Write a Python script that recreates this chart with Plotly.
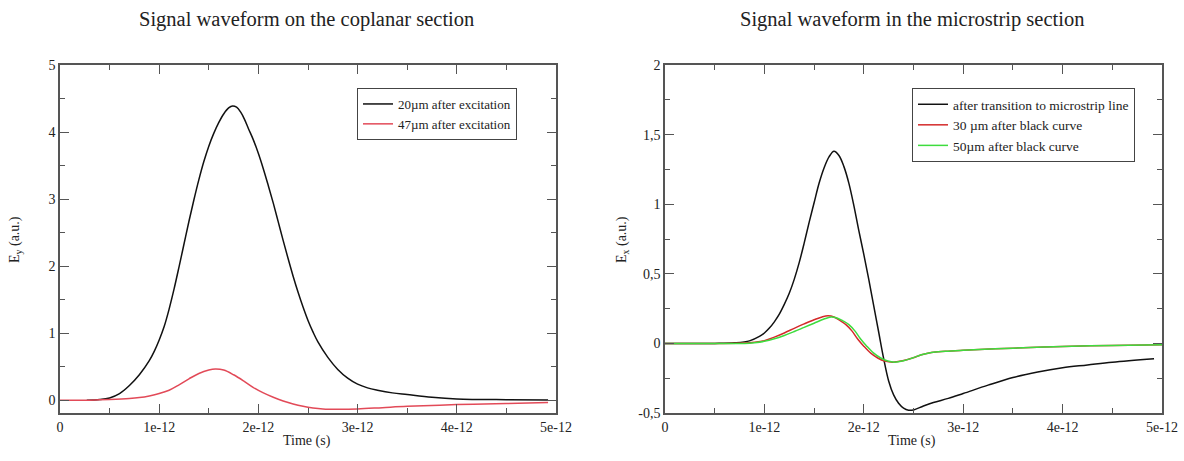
import plotly.graph_objects as go

W, H = 1184, 461

# ---- data (time in ps, displayed with e-12 tick labels) ----
t_cop_20 = [0.27, 0.4, 0.5, 0.6, 0.7, 0.8, 0.9, 0.95, 1.0, 1.05, 1.1, 1.15, 1.2, 1.25, 1.3, 1.35, 1.4,
            1.45, 1.5, 1.55, 1.6, 1.65, 1.7, 1.74, 1.78, 1.82, 1.86, 1.9, 1.95, 2.0, 2.05, 2.1,
            2.15, 2.2, 2.25, 2.3, 2.35, 2.4, 2.45, 2.5, 2.55, 2.6, 2.7, 2.8, 2.9, 3.0, 3.1, 3.2,
            3.35, 3.5, 3.75, 4.0, 4.5, 4.92]
e_cop_20 = [0.0, 0.01, 0.035, 0.1, 0.22, 0.38, 0.59, 0.73, 0.9, 1.1, 1.36, 1.66, 1.99, 2.33, 2.67, 2.99, 3.29,
            3.56, 3.79, 3.98, 4.14, 4.27, 4.36, 4.39, 4.37, 4.3, 4.19, 4.05, 3.88, 3.68, 3.45, 3.2,
            2.94, 2.66, 2.38, 2.11, 1.85, 1.61, 1.39, 1.19, 1.02, 0.87, 0.64, 0.46, 0.33, 0.24, 0.185, 0.15,
            0.11, 0.085, 0.045, 0.02, 0.008, 0.005]

t_cop_47 = [0.0, 0.3, 0.5, 0.7, 0.8, 0.9, 1.0, 1.1, 1.2, 1.3, 1.4, 1.5, 1.566, 1.65, 1.75, 1.85,
            1.95, 2.05, 2.15, 2.25, 2.35, 2.45, 2.55, 2.65, 2.8, 3.0, 3.25, 3.5, 4.0, 4.5, 4.92]
e_cop_47 = [0.0, 0.002, 0.01, 0.025, 0.04, 0.065, 0.1, 0.15, 0.23, 0.32, 0.40, 0.45, 0.465, 0.45, 0.38, 0.29,
            0.19, 0.11, 0.045, -0.01, -0.055, -0.09, -0.115, -0.13, -0.135, -0.13, -0.11, -0.09, -0.065, -0.048, -0.035]

t_ms_0 = [0.0, 0.5, 0.7, 0.85, 0.95, 1.0, 1.05, 1.1, 1.15, 1.2, 1.25, 1.3, 1.35, 1.4, 1.45, 1.5,
          1.55, 1.6, 1.65, 1.7, 1.75, 1.8, 1.85, 1.9, 1.95, 2.0, 2.05, 2.1, 2.15, 2.2, 2.25, 2.3,
          2.35, 2.4, 2.45, 2.5, 2.6, 2.7, 2.85, 3.0, 3.25, 3.5, 3.75, 4.0, 4.25, 4.5, 4.92]
e_ms_0 = [0.0, 0.0, 0.004, 0.018, 0.05, 0.075, 0.11, 0.155, 0.21, 0.28, 0.36, 0.46, 0.58, 0.72, 0.87, 1.01,
          1.15, 1.26, 1.34, 1.38, 1.35, 1.27, 1.15, 0.99, 0.81, 0.64, 0.46, 0.27, 0.08, -0.11, -0.27, -0.37,
          -0.43, -0.465, -0.48, -0.478, -0.45, -0.425, -0.395, -0.36, -0.30, -0.245, -0.205, -0.175, -0.155, -0.135, -0.11]

t_ms_30 = [0.0, 0.5, 0.8, 0.9, 1.0, 1.1, 1.2, 1.3, 1.4, 1.5, 1.58, 1.64, 1.7, 1.76, 1.82, 1.88,
           1.94, 2.0, 2.07, 2.14, 2.21, 2.29, 2.39, 2.49, 2.58, 2.68, 2.82, 3.0, 3.5, 4.0, 4.5, 5.0]
e_ms_30 = [0.0, 0.0, 0.002, 0.008, 0.02, 0.045, 0.075, 0.108, 0.14, 0.17, 0.19, 0.198, 0.19, 0.165, 0.135, 0.09,
           0.03, -0.02, -0.07, -0.105, -0.127, -0.135, -0.125, -0.105, -0.082, -0.065, -0.057, -0.05, -0.034, -0.022, -0.015, -0.01]

t_ms_50 = [0.0, 0.5, 0.8, 0.9, 1.0, 1.1, 1.2, 1.3, 1.4, 1.5, 1.6, 1.67, 1.73, 1.79, 1.85, 1.91,
           1.97, 2.03, 2.10, 2.17, 2.24, 2.31, 2.40, 2.49, 2.58, 2.68, 2.82, 3.0, 3.5, 4.0, 4.5, 5.0]
e_ms_50 = [0.0, 0.0, 0.0, 0.005, 0.015, 0.033, 0.057, 0.085, 0.115, 0.145, 0.175, 0.19, 0.183, 0.162, 0.135, 0.09,
           0.03, -0.02, -0.07, -0.105, -0.127, -0.135, -0.125, -0.105, -0.082, -0.065, -0.057, -0.05, -0.034, -0.022, -0.015, -0.01]

x_tickvals = [0, 1, 2, 3, 4, 5]
x_ticktext = ["0", "1e-12", "2e-12", "3e-12", "4e-12", "5e-12"]
y1_tickvals = [0, 1, 2, 3, 4, 5]
y1_ticktext = ["0", "1", "2", "3", "4", "5"]
y2_tickvals = [-0.5, 0, 0.5, 1, 1.5, 2]
y2_ticktext = ["-0,5", "0", "0,5", "1", "1,5", "2"]

names_cop = ["20\u00b5m after excitation", "47\u00b5m after excitation"]
names_ms = ["after transition to microstrip line", "30 \u00b5m after black curve", "50\u00b5m after black curve"]

FONT = "Liberation Serif"
AX = "#555555"
LS = dict(width=1.5, shape="spline", smoothing=1.0)

fig = go.Figure()
fig.add_trace(go.Scatter(x=t_cop_20, y=e_cop_20, mode="lines", name=names_cop[0],
                         line=dict(color="#111111", **LS), xaxis="x", yaxis="y", legend="legend"))
fig.add_trace(go.Scatter(x=t_cop_47, y=e_cop_47, mode="lines", name=names_cop[1],
                         line=dict(color="#e24a58", **LS), xaxis="x", yaxis="y", legend="legend"))
fig.add_trace(go.Scatter(x=t_ms_0, y=e_ms_0, mode="lines", name=names_ms[0],
                         line=dict(color="#111111", **LS), xaxis="x2", yaxis="y2", legend="legend2"))
fig.add_trace(go.Scatter(x=t_ms_30, y=e_ms_30, mode="lines", name=names_ms[1],
                         line=dict(color="#d42a2a", **LS), xaxis="x2", yaxis="y2", legend="legend2"))
fig.add_trace(go.Scatter(x=t_ms_50, y=e_ms_50, mode="lines", name=names_ms[2],
                         line=dict(color="#3edc3e", **LS), xaxis="x2", yaxis="y2", legend="legend2"))

def xaxis(dom, anchor):
    return dict(domain=dom, anchor=anchor, range=[0, 5], tickvals=x_tickvals, ticktext=x_ticktext,
                ticks="inside", ticklen=9, tickwidth=1, tickcolor=AX, showline=True, linecolor=AX,
                linewidth=1.5, mirror="allticks", showgrid=False, zeroline=False,
                tickfont=dict(family=FONT, size=14, color="#222222"),
                minor=dict(ticks="inside", ticklen=5, dtick=0.5, tick0=0, tickcolor=AX, showgrid=False),
                automargin=False, fixedrange=True)

def yaxis(dom, anchor, rng, tv, tt, mdt):
    return dict(domain=dom, anchor=anchor, range=rng, tickvals=tv, ticktext=tt,
                ticks="inside", ticklen=9, tickwidth=1, tickcolor=AX, showline=True, linecolor=AX,
                linewidth=1.5, mirror="allticks", showgrid=False, zeroline=False,
                tickfont=dict(family=FONT, size=14, color="#222222"),
                minor=dict(ticks="inside", ticklen=5, dtick=mdt, tick0=0, tickcolor=AX, showgrid=False),
                automargin=False, fixedrange=True)

ydom = [1 - 413 / H, 1 - 65 / H]
fig.update_layout(
    width=W, height=H, margin=dict(l=0, r=0, t=0, b=0),
    paper_bgcolor="white", plot_bgcolor="white",
    font=dict(family=FONT, color="#222222"),
    xaxis=xaxis([60 / W, 556 / W], "y"),
    yaxis=yaxis(ydom, "x", [-0.19, 5], y1_tickvals, y1_ticktext, 0.5),
    xaxis2=xaxis([665 / W, 1162 / W], "y2"),
    yaxis2=yaxis(ydom, "x2", [-0.5, 2], y2_tickvals, y2_ticktext, 0.25),
    legend=dict(x=357 / W, y=1 - 88 / H, xanchor="left", yanchor="top",
                bordercolor="#444444", borderwidth=1, bgcolor="white",
                font=dict(family=FONT, size=13, color="#222222"),
                itemwidth=30, tracegroupgap=0),
    legend2=dict(x=912 / W, y=1 - 88 / H, xanchor="left", yanchor="top",
                 bordercolor="#444444", borderwidth=1, bgcolor="white",
                 font=dict(family=FONT, size=13.5, color="#222222"),
                 itemwidth=30, tracegroupgap=0),
    showlegend=True,
)

ann = [
    dict(text="Signal waveform on the coplanar section", x=306 / W, y=1 - 19 / H,
         font=dict(size=20.5)),
    dict(text="Signal waveform in the microstrip section", x=912 / W, y=1 - 19 / H,
         font=dict(size=20.5)),
    dict(text="Time (s)", x=307 / W, y=1 - 441 / H, font=dict(size=14)),
    dict(text="Time (s)", x=912 / W, y=1 - 441 / H, font=dict(size=14)),
    dict(text="E<sub>y</sub> (a.u.)", x=16 / W, y=1 - 240 / H, textangle=-90, font=dict(size=14)),
    dict(text="E<sub>x</sub> (a.u.)", x=623 / W, y=1 - 240 / H, textangle=-90, font=dict(size=14)),
]
for a in ann:
    a.update(xref="paper", yref="paper", showarrow=False, xanchor="center", yanchor="middle")
    a["font"].update(family=FONT, color="#222222")
fig.update_layout(annotations=ann)

fig.write_html("out.html", config={"displayModeBar": False},
               post_script="document.body.style.margin='0';document.body.style.padding='0';"
                           "document.documentElement.style.overflow='hidden';")
